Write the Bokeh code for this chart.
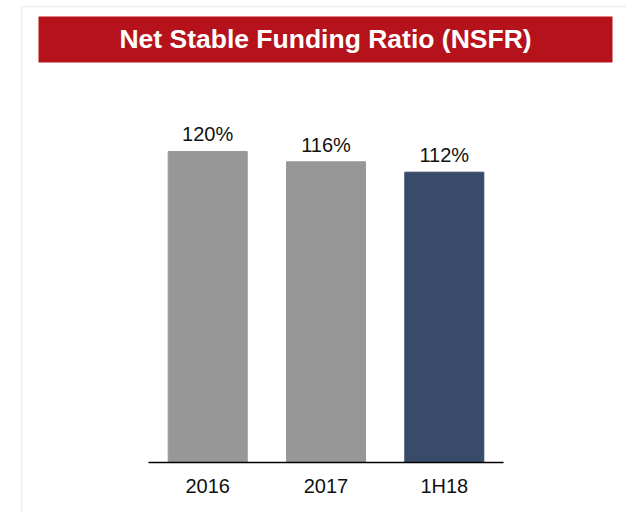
from bokeh.plotting import figure
from bokeh.models import Range1d, BoxAnnotation, FixedTicker, LinearAxis, ColumnDataSource, Label
from bokeh.embed import file_html
from bokeh.resources import INLINE
from bokeh.core.properties import value

# ---- data ----
categories = ["2016", "2017", "1H18"]
nsfr = [120, 116, 112]
bar_colors = ["#979797", "#979797", "#384B6B"]
value_labels = ["120%", "116%", "112%"]
title_text = "Net Stable Funding Ratio (NSFR)"

# ---- layout constants (pixels on the canvas) ----
W, H = 626, 512
BASE_Y = 462          # canvas y of the zero line
PX_PER_CAT = 118.3
PX_PER_UNIT = 2.592
X0 = 207.2            # canvas x of first category centre


def cx(px):
    return (px - X0) / PX_PER_CAT


def cy(py):
    return (BASE_Y - py) / PX_PER_UNIT


idx = list(range(len(categories)))
src = ColumnDataSource(dict(x=idx, top=nsfr, color=bar_colors, label=value_labels))

p = figure(width=W, height=H,
           x_range=Range1d(cx(0), cx(W)), y_range=Range1d(cy(H), cy(0)),
           output_backend="svg", toolbar_location=None,
           min_border=0, min_border_left=0, min_border_right=0,
           min_border_top=0, min_border_bottom=0,
           x_axis_location=None, y_axis_location=None)
p.grid.grid_line_color = None
p.outline_line_color = None
p.background_fill_color = "white"
p.border_fill_color = "white"

# page frame lines
p.add_layout(BoxAnnotation(left=cx(21), right=cx(W + 50), top=cy(6), bottom=cy(H + 100),
                           fill_color=None, fill_alpha=0,
                           line_color="#C8C8C8", line_width=1.6))

# red title banner
p.add_layout(BoxAnnotation(left=cx(38), right=cx(612), top=cy(16), bottom=cy(62),
                           fill_color="#B5121B", fill_alpha=1, line_color=None))
p.add_layout(Label(x=cx(325), y=cy(38.5), text=title_text,
                   text_align="center", text_baseline="alphabetic",
                   text_font="Liberation Sans", text_font_style="bold",
                   text_font_size="26.5px", text_color="white"))

# bars
p.vbar(x="x", top="top", bottom=0, width=0.668, color="color", source=src)

# value labels
p.text(x="x", y="top", text="label", source=src,
       text_align="center", text_baseline="alphabetic", y_offset=-17,
       text_font=value("Liberation Sans"), text_font_size="20px",
       text_color="#111111")

# category axis, drawn at the zero line
ax = LinearAxis(ticker=FixedTicker(ticks=idx),
                major_label_overrides={i: c for i, c in zip(idx, categories)},
                bounds=(-0.5, len(categories) - 0.5),
                fixed_location=0,
                axis_line_color="black", axis_line_width=1.5,
                major_tick_line_color=None, minor_tick_line_color=None,
                major_tick_in=0, major_tick_out=0,
                minor_tick_in=0, minor_tick_out=0,
                major_label_standoff=12,
                major_label_text_font="Liberation Sans",
                major_label_text_font_size="20px",
                major_label_text_color="#111111")
p.add_layout(ax, "below")

open("out.html", "w").write(file_html(p, INLINE))
